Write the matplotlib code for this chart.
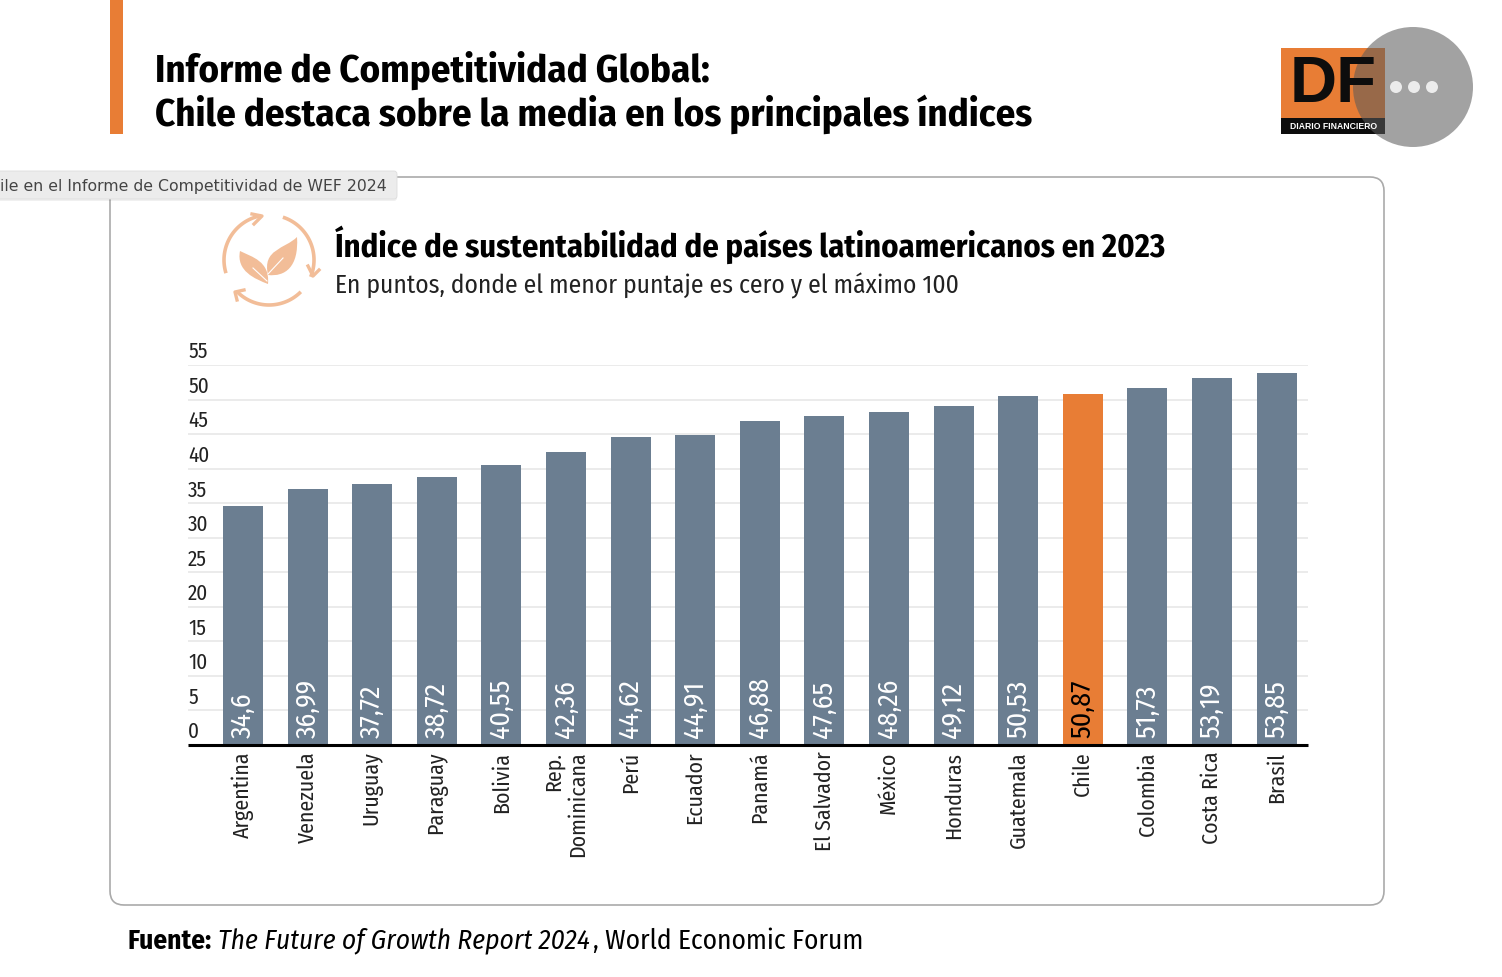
#!/usr/bin/env python3

import matplotlib
matplotlib.use("Agg")
import matplotlib.pyplot as plt
import matplotlib.patches as patches
from matplotlib.path import Path
import numpy as np

W, H = 1502, 978

countries = ["Argentina", "Venezuela", "Uruguay", "Paraguay", "Bolivia", "Rep.\nDominicana",
             "Perú", "Ecuador", "Panamá", "El Salvador", "México", "Honduras",
             "Guatemala", "Chile", "Colombia", "Costa Rica", "Brasil"]
values = [34.6, 36.99, 37.72, 38.72, 40.55, 42.36, 44.62, 44.91, 46.88, 47.65,
          48.26, 49.12, 50.53, 50.87, 51.73, 53.19, 53.85]
y_ticks = [0, 5, 10, 15, 20, 25, 30, 35, 40, 45, 50, 55]
highlight = "Chile"

GREY = "#6b7e91"
ORANGE = "#e87d35"
PEACH = "#f2bd98"
NARROW = ["Fira Sans Condensed", "Barlow Condensed", "Lato", "DejaVu Sans"]

plt.rcParams["font.family"] = NARROW

fig = plt.figure(figsize=(W / 100, H / 100), dpi=100, facecolor="white")

# page layer in pixel coordinates
bg = fig.add_axes([0, 0, 1, 1], zorder=0)
bg.set_xlim(0, W)
bg.set_ylim(H, 0)
bg.axis("off")

bg.add_patch(patches.Rectangle((110, 0), 13, 135, fc=ORANGE, ec="none"))
bg.text(155, 70.5, "Informe de Competitividad Global:", fontsize=27.9, fontweight="bold", va="center")
bg.text(155, 114, "Chile destaca sobre la media en los principales índices", fontsize=27.9,
        fontweight="bold", va="center")

bg.add_patch(patches.FancyBboxPatch((110, 178), 1274, 728, boxstyle="round,pad=0,rounding_size=14",
                                    fc="white", ec="#aaaaaa", lw=1.2))

bg.text(335, 244.5, "Índice de sustentabilidad de países latinoamericanos en 2023", fontsize=23.35,
        fontweight="bold", va="center")
bg.text(335, 286, "En puntos, donde el menor puntaje es cero y el máximo 100", fontsize=18.4,
        va="center", color="#222222")

# icon
for a0, a1 in [(100, 197), (-22, 72), (-135, -45)]:
    t = np.radians(np.linspace(a0, a1, 40))
    bg.plot(269 + 45 * np.cos(t), 261 - 45 * np.sin(t), color=PEACH, lw=2.6,
            solid_capstyle="butt")
for pts in [[(252, 215), (262, 217), (254, 225)], [(308, 267), (313, 277), (319, 271)],
            [(244, 291), (235, 293), (237, 301)]]:
    bg.plot(*zip(*pts), color=PEACH, lw=2.4)
codes = [Path.MOVETO, Path.CURVE4, Path.CURVE4, Path.CURVE4, Path.CURVE4, Path.CURVE4, Path.CURVE4]
right_leaf = [(297, 238), (285, 250), (262, 250), (268, 276), (285, 278), (299, 268), (297, 238)]
left_leaf = [(240, 252), (252, 258), (270, 262), (268, 285), (255, 280), (236, 272), (240, 252)]
bg.add_patch(patches.PathPatch(Path(right_leaf, codes), fc=PEACH, ec="none"))
bg.add_patch(patches.PathPatch(Path(left_leaf, codes), fc=PEACH, ec="none"))
bg.plot([268, 283], [275, 259], color="white", lw=0.8)
bg.plot([267, 253], [282, 269], color="white", lw=0.8)

# source line
bg.text(127.5, 941, "Fuente:", fontsize=19.7, fontweight="bold", va="center")
bg.text(218.5, 941, "The Future of Growth Report 2024", fontsize=19.7, style="italic", va="center")
bg.text(593, 941, ", World Economic Forum", fontsize=19.7, va="center")

# chart
x0, x1, y0, y1 = 188, 1308, 746, 366
ax = fig.add_axes([x0 / W, 1 - y0 / H, (x1 - x0) / W, (y0 - y1) / H], zorder=1)
ax.patch.set_alpha(0)
step = 64.6
ax.set_xlim(-(243 - x0) / step, (x1 - 243) / step)
ax.set_ylim(0, 55)

x = np.arange(len(countries))
colors = [ORANGE if c == highlight else GREY for c in countries]
ax.bar(x, values, width=40 / step, color=colors, zorder=2)

ax.set_yticks(y_ticks)
ax.set_yticklabels([])
ax.tick_params(axis="both", length=0)
ax.grid(axis="y", color="#e6e6e6", lw=1.1, zorder=0)
for s in ["top", "right", "left"]:
    ax.spines[s].set_visible(False)
ax.spines["bottom"].set_linewidth(2.2)
ax.spines["bottom"].set_color("black")
ax.spines["bottom"].set_zorder(3)
ax.spines["bottom"].set_capstyle("butt")

for t in y_ticks:
    ax.annotate(str(t), xy=(0, t), xycoords=("axes fraction", "data"), xytext=(0, 10),
                textcoords="offset points", ha="left", va="center", fontsize=15.2, color="#222222",
                annotation_clip=False)

for i, (c, v) in enumerate(zip(countries, values)):
    ax.annotate(str(v).replace(".", ","), xy=(i, 0), xytext=(0, 5.5), textcoords="offset points",
                rotation=90, ha="center", va="bottom", fontsize=20, zorder=4,
                color="black" if c == highlight else "white")

ax.set_xticks(x)
ax.set_xticklabels(countries, rotation=90, ha="center", va="top", ma="right", fontsize=15.7,
                   color="#222222")
ax.tick_params(axis="x", pad=4)

# overlays on top of the page
top = fig.add_axes([0, 0, 1, 1], zorder=2)
top.set_xlim(0, W)
top.set_ylim(H, 0)
top.axis("off")

# tooltip
top.add_patch(patches.FancyBboxPatch((-8, 174), 405, 28, boxstyle="round,pad=0,rounding_size=3",
                                     fc="#000000", ec="none", alpha=0.06))
top.add_patch(patches.FancyBboxPatch((-8, 172), 405, 28, boxstyle="round,pad=0,rounding_size=3",
                                     fc="#ececec", ec="#dddddd", lw=0.6))
top.text(0, 186, "ile en el Informe de Competitividad de WEF 2024", fontsize=11.32,
         family="DejaVu Sans", color="#444444", va="center", ha="left")

# logo
top.add_patch(patches.Rectangle((1281, 49), 104, 70, fc=ORANGE, ec="none"))
top.add_patch(patches.Rectangle((1281, 119), 104, 16, fc="#0d0d0d", ec="none"))
top.text(1333, 85, "DF", fontsize=47, family="Liberation Sans", fontweight="bold", color="#0d0d0d",
         ha="center", va="center")
top.text(1290, 126.5, "DIARIO FINANCIERO", fontsize=6.2, family="Liberation Sans", fontweight="bold",
         color="white", ha="left", va="center")

# floating menu button
top.add_patch(patches.Circle((1413, 88), 60, fc="#5a5a5a", ec="none", alpha=0.56))
for cx in [1396, 1414, 1432]:
    top.add_patch(patches.Circle((cx, 88), 6, fc="#ececec", ec="none"))

fig.savefig("out.png", dpi=100)
